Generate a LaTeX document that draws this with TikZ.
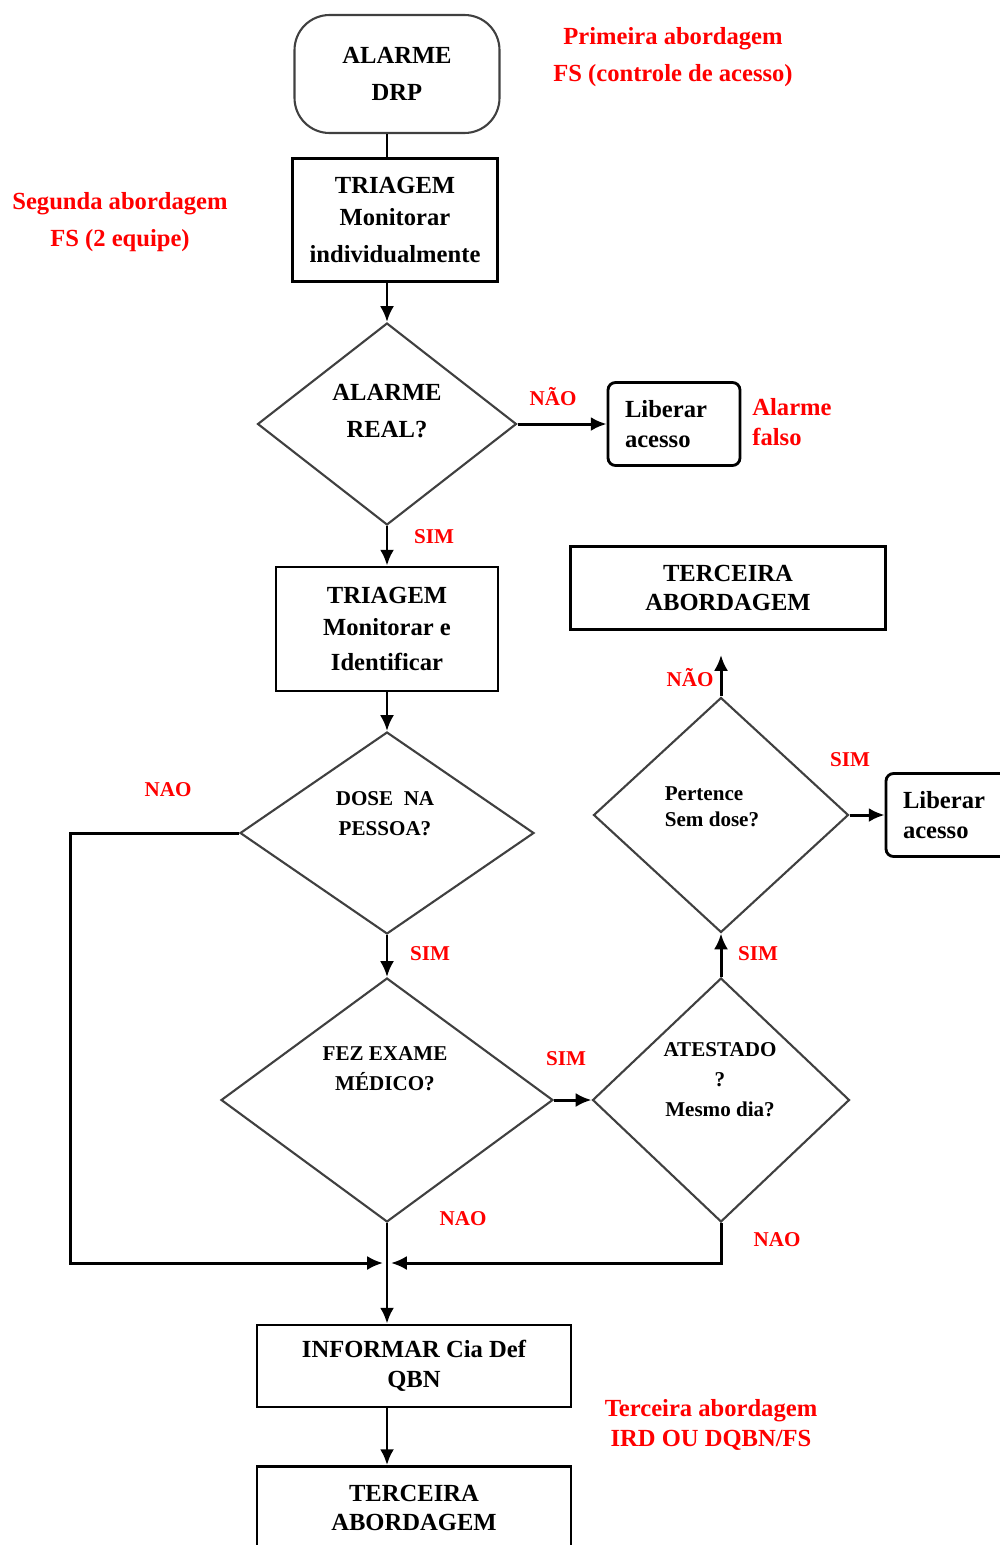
\documentclass[tikz,border=0pt]{standalone}
\usepackage{fontspec}
\setmainfont{Liberation Serif}
\usepackage{tikz}
\usetikzlibrary{shapes.geometric, arrows.meta, positioning}
\newcommand{\txtbig}{\fontsize{14}{17}\selectfont\bfseries}
\newcommand{\txtsmall}{\fontsize{12}{15}\selectfont\bfseries}
\tikzstyle{block} = [draw, line width=1.6pt, rectangle, align=center, font=\txtbig]
\tikzstyle{decision} = [draw=black!75, line width=1.2pt, diamond, inner sep=0pt]
\tikzstyle{dtext} = [align=center, font=\txtsmall]
\tikzstyle{answer} = [text=red, font=\txtsmall]
\tikzstyle{note} = [text=red, align=center, font=\txtbig]

\begin{document}
\begin{tikzpicture}[x=0.02cm, y=-0.02cm, >={Latex[length=9pt,width=8pt]}, line width=1.7pt]
    \useasboundingbox (0,0) rectangle (1000,1545);
    \clip (0,0) rectangle (1000,1545);

    % main column
    \node [block, draw=black!75, line width=1.2pt, rounded corners=0.7cm, minimum width=4.1cm, minimum height=2.36cm] (drp) at (397,74) {ALARME\\[4pt]DRP};
    \node [block, minimum width=4.1cm, minimum height=2.46cm] (tri1) at (395,220) {TRIAGEM\\[1pt]Monitorar\\[4pt]individualmente};
    \node [decision, minimum width=5.18cm, minimum height=4.04cm] (real) at (387,424) {};
    \node [dtext, font=\txtbig] (realtxt) at (387,411) {ALARME\\[4pt]REAL?};
    \node [block, rounded corners=0.15cm, align=left, text width=1.96cm, inner xsep=0.34cm, minimum height=1.66cm] (lib1) at (674,424) {Liberar\\acesso};
    \node [block, minimum width=4.44cm, minimum height=2.48cm] (tri2) at (387,629) {TRIAGEM\\[1pt]Monitorar e\\[3pt]Identificar};
    \node [decision, minimum width=5.88cm, minimum height=4.04cm] (dose) at (387,833) {};
    \node [dtext] (dosetxt) at (385,814) {DOSE~~NA\\[2pt]PESSOA?};
    \node [decision, minimum width=6.64cm, minimum height=4.88cm] (fez) at (387,1100) {};
    \node [dtext] (feztxt) at (385,1069) {FEZ EXAME\\[2pt]MÉDICO?};

    % right column
    \node [decision, minimum width=5.14cm, minimum height=4.88cm] (atest) at (721,1100) {};
    \node [dtext] (atesttxt) at (720,1080) {ATESTADO\\[2pt]?\\[2pt]Mesmo dia?};
    \node [decision, minimum width=5.1cm, minimum height=4.7cm] (pert) at (721,815) {};
    \node [dtext, align=left] (perttxt) at (712,807) {Pertence\\Sem dose?};
    \node [block, rounded corners=0.15cm, align=left, text width=1.96cm, inner xsep=0.34cm, minimum height=1.66cm] (lib2) at (952,815) {Liberar\\acesso};
    \node [block, minimum width=6.3cm, minimum height=1.66cm] (ter1) at (728,588) {TERCEIRA\\ABORDAGEM};
    \coordinate (upend) at (721,655);

    % bottom
    \coordinate (merge) at (387,1263);
    \node [block, minimum width=6.28cm, minimum height=1.64cm] (inf) at (414,1366) {INFORMAR Cia Def\\QBN};
    \node [block, minimum width=6.28cm, minimum height=1.66cm] (ter2) at (414,1508) {TERCEIRA\\ABORDAGEM};

    % connectors
    \draw (drp.south -| real.north) -- (tri1.north -| real.north);
    \draw [->] (tri1.south -| real.north) -- (real.north);
    \draw [->] (real.east) -- (lib1.west);
    \draw [->] (real.south) -- (tri2.north);
    \draw [->] (tri2.south) -- (dose.north);
    \draw [->] (dose.south) -- (fez.north);
    \draw [->] (fez.east) -- (atest.west);
    \draw [->] (atest.north) -- (pert.south);
    \draw [->] (pert.east) -- (lib2.west);
    \draw [->] (pert.north) -- (upend);
    \draw [->] (dose.west) -- ++(-168,0) |- ([xshift=-0.08cm]merge);
    \draw [->] (atest.south) |- ([xshift=0.08cm]merge);
    \draw [->] (fez.south) -- (inf.north -| fez.south);
    \draw [->] (inf.south -| fez.south) -- (ter2.north -| fez.south);

    % answers
    \node [answer] (nao1) at (553,397) {NÃO};
    \node [answer] (sim1) at (434,537) {SIM};
    \node [answer] (nao2) at (168,790) {NAO};
    \node [answer] (sim2) at (430,954) {SIM};
    \node [answer] (sim3) at (566,1059) {SIM};
    \node [answer] (nao3) at (463,1219) {NAO};
    \node [answer] (nao4) at (777,1240) {NAO};
    \node [answer] (sim4) at (758,954) {SIM};
    \node [answer] (nao5) at (690,678) {NÃO};
    \node [answer] (sim5) at (850,760) {SIM};

    % notes
    \node [note] (prim) at (673,57) {Primeira abordagem\\[4pt]FS (controle de acesso)};
    \node [note] (seg) at (120,222) {Segunda abordagem\\[4pt]FS (2 equipe)};
    \node [note, align=left, anchor=west] (falso) at (745,422) {Alarme\\falso};
    \node [note] (terc) at (711,1425) {Terceira abordagem\\IRD OU DQBN/FS};
\end{tikzpicture}
\end{document}
